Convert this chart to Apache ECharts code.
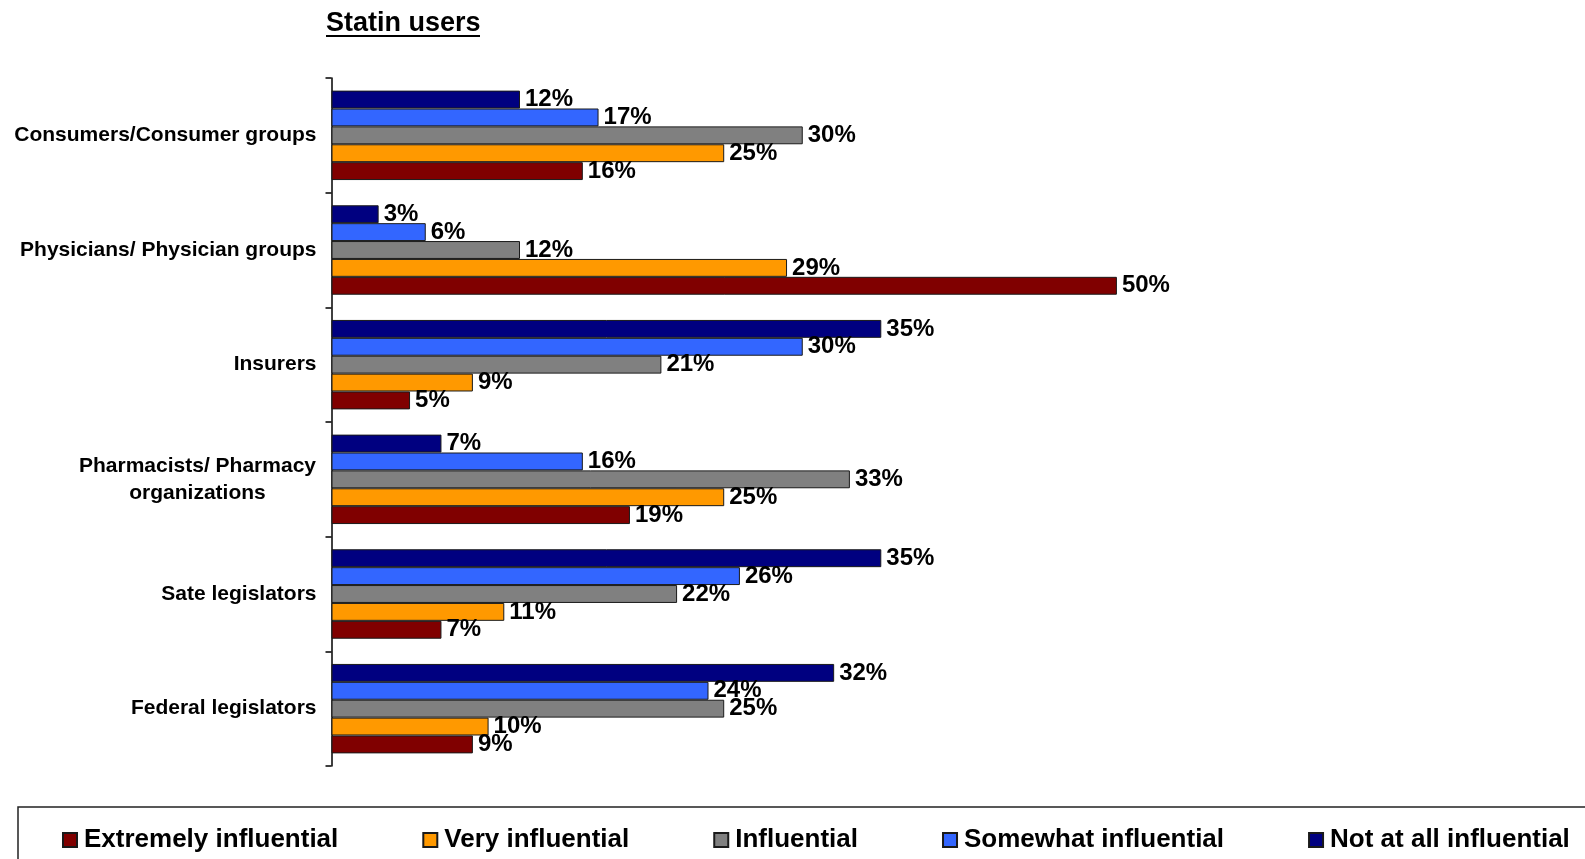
<!DOCTYPE html>
<html>
<head>
<meta charset="utf-8">
<script src="https://cdn.jsdelivr.net/npm/echarts@6/dist/echarts.min.js"></script>
<style>
html,body{margin:0;padding:0;background:#fff;}
#chart{width:1585px;height:859px;}
</style>
</head>
<body>
<div id="chart"></div>
<script>
const titleText = 'Statin users';
const categories = ['Consumers/Consumer groups', 'Physicians/ Physician groups', 'Insurers', 'Pharmacists/ Pharmacy\norganizations', 'Sate legislators', 'Federal legislators'];
const seriesNames = ['Not at all influential', 'Somewhat influential', 'Influential', 'Very influential', 'Extremely influential'];
const legendOrder = ['Extremely influential', 'Very influential', 'Influential', 'Somewhat influential', 'Not at all influential'];
const notAtAll = [12, 3, 35, 7, 35, 32];
const somewhat = [17, 6, 30, 16, 26, 24];
const influential = [30, 12, 21, 33, 22, 25];
const very = [25, 29, 9, 25, 11, 10];
const extremely = [16, 50, 5, 19, 7, 9];
const seriesValues = [notAtAll, somewhat, influential, very, extremely];
const colors = ['#000080', '#3366FF', '#808080', '#FF9900', '#800000'];

const FONT = 'Liberation Sans, Arial, sans-serif';
const chart = echarts.init(document.getElementById('chart'));
const option = {
  backgroundColor: '#fff',
  animation: false,
  textStyle: { fontFamily: FONT },
  graphic: [
    { type: 'text', left: 326, top: 10, style: { text: titleText, font: 'bold 27px ' + FONT, fill: '#000' } },
    { type: 'rect', left: 326, top: 35, shape: { width: 154, height: 2 }, style: { fill: '#000' } }
  ],
  grid: { left: 331.5, top: 78, bottom: 93, right: 311, containLabel: false },
  xAxis: { type: 'value', min: 0, max: 60, show: false, splitLine: { show: false } },
  yAxis: {
    type: 'category', data: categories, inverse: true,
    axisLine: { show: true, lineStyle: { color: '#000', width: 1.5 } },
    axisTick: { show: true, length: 6, lineStyle: { color: '#000', width: 1.5 } },
    axisLabel: {
      margin: 15, color: '#000', fontSize: 21, fontWeight: 'bold', fontFamily: FONT, lineHeight: 27,
      formatter: function (v) { return v.indexOf('\n') >= 0 ? '{c|' + v + '}' : v; },
      rich: { c: { width: 238, align: 'center', fontSize: 21, fontWeight: 'bold', fontFamily: FONT, lineHeight: 27, color: '#000' } }
    }
  },
  legend: {
    data: legendOrder, left: 18, top: 807, width: 1700, orient: 'horizontal',
    padding: [20, 40, 30, 44], itemGap: 84, itemWidth: 14, itemHeight: 14,
    borderColor: '#222', borderWidth: 1.5, icon: 'rect',
    textStyle: { fontSize: 26, fontWeight: 'bold', color: '#000', fontFamily: FONT, padding: [0, 0, 0, 2] }
  },
  series: seriesNames.map(function (n, i) {
    return {
      name: n, type: 'bar', data: seriesValues[i], barGap: '0%', barCategoryGap: '22%',
      itemStyle: { color: colors[i], borderColor: '#1a1a1a', borderWidth: 1 },
      label: { show: true, position: 'right', distance: 5, formatter: '{c}%', fontSize: 24, fontWeight: 'bold', color: '#000', fontFamily: FONT }
    };
  })
};
chart.setOption(option);
</script>
</body>
</html>
